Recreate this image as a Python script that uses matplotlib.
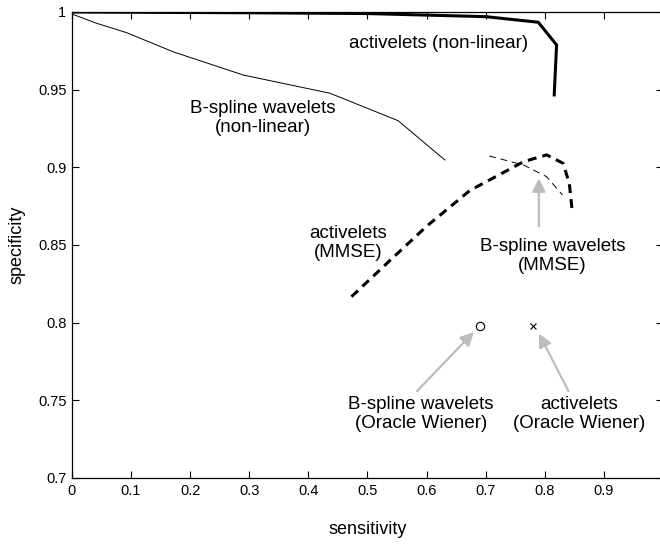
# ROC-style comparison: specificity vs sensitivity for wavelet denoisers.
import matplotlib
matplotlib.use("Agg")
import matplotlib.pyplot as plt

plt.rcParams["font.family"] = ["Liberation Sans", "DejaVu Sans"]

# activelets, non-linear thresholding (thick solid)
act_nl_x = [0.0, 0.30, 0.50, 0.60, 0.70, 0.789, 0.820, 0.816]
act_nl_y = [1.0, 0.9995, 0.999, 0.998, 0.997, 0.9934, 0.9788, 0.9466]

# B-spline wavelets, non-linear thresholding (thin solid)
bsp_nl_x = [0.0, 0.042, 0.0925, 0.171, 0.290, 0.4365, 0.552, 0.631]
bsp_nl_y = [0.9987, 0.9927, 0.9867, 0.9744, 0.9594, 0.9477, 0.930, 0.9047]

# activelets, MMSE (thick dashed)
act_mmse_x = [0.473, 0.538, 0.600, 0.673, 0.764, 0.803, 0.831, 0.8415, 0.8466]
act_mmse_y = [0.8167, 0.840, 0.862, 0.885, 0.9036, 0.908, 0.9026, 0.8897, 0.8714]

# B-spline wavelets, MMSE (thin dashed)
bsp_mmse_x = [0.706, 0.764, 0.803, 0.830]
bsp_mmse_y = [0.9073, 0.9015, 0.894, 0.8822]

# Oracle Wiener single points
bsp_oracle = (0.690, 0.798)
act_oracle = (0.7795, 0.798)

xticks = [0, 0.1, 0.2, 0.3, 0.4, 0.5, 0.6, 0.7, 0.8, 0.9]
xticklabels = ["0", "0.1", "0.2", "0.3", "0.4", "0.5", "0.6", "0.7", "0.8", "0.9"]
yticks = [0.7, 0.75, 0.8, 0.85, 0.9, 0.95, 1.0]
yticklabels = ["0.7", "0.75", "0.8", "0.85", "0.9", "0.95", "1"]

# label text, centre position
labels = [
    ("activelets (non-linear)", 0.620, 0.980),
    ("B-spline wavelets\n(non-linear)", 0.323, 0.932),
    ("activelets\n(MMSE)", 0.467, 0.851),
    ("B-spline wavelets\n(MMSE)", 0.813, 0.843),
    ("B-spline wavelets\n(Oracle Wiener)", 0.590, 0.741),
    ("activelets\n(Oracle Wiener)", 0.858, 0.741),
]

# arrows: (tail, tip)
arrows = [
    ((0.790, 0.862), (0.790, 0.893)),
    ((0.584, 0.756), (0.680, 0.794)),
    ((0.840, 0.756), (0.790, 0.793)),
]

fig = plt.figure(figsize=(6.6, 5.45), dpi=100)
ax = fig.add_axes([0.109, 0.123, 0.8955, 0.855])

ax.plot(act_nl_x, act_nl_y, color="black", lw=2.2, solid_joinstyle="miter")
ax.plot(bsp_nl_x, bsp_nl_y, color="black", lw=0.7)
ax.plot(act_mmse_x, act_mmse_y, color="black", lw=2.2, dashes=(2.9, 2.0))
ax.plot(bsp_mmse_x, bsp_mmse_y, color="black", lw=0.7, dashes=(7, 5))
ax.plot(*bsp_oracle, marker="o", ms=6, mfc="none", mec="black", mew=0.8)
ax.plot(*act_oracle, marker="x", ms=4, color="black", mew=0.8)

for tail, tip in arrows:
    ax.annotate("", xy=tip, xytext=tail,
                arrowprops=dict(arrowstyle="-|>", color="#bdbdbd", lw=1.6,
                                mutation_scale=20, shrinkA=0, shrinkB=0))

for txt, x, y in labels:
    ax.text(x, y, txt, ha="center", va="center", fontsize=13.5, linespacing=1.15)

ax.set_xlim(0, 1)
ax.set_ylim(0.7, 1.0)
ax.set_xticks(xticks)
ax.set_xticklabels(xticklabels)
ax.set_yticks(yticks)
ax.set_yticklabels(yticklabels)
ax.tick_params(direction="in", top=True, right=True, length=5, width=0.8,
               labelsize=10.5, pad=4)
for spine in ax.spines.values():
    spine.set_linewidth(0.9)
# the right edge of the box sits just outside the saved image
ax.spines["right"].set_visible(False)

ax.set_xlabel("sensitivity", fontsize=13, labelpad=17)
ax.set_ylabel("specificity", fontsize=13, labelpad=9)

fig.savefig("out.png", dpi=100)
